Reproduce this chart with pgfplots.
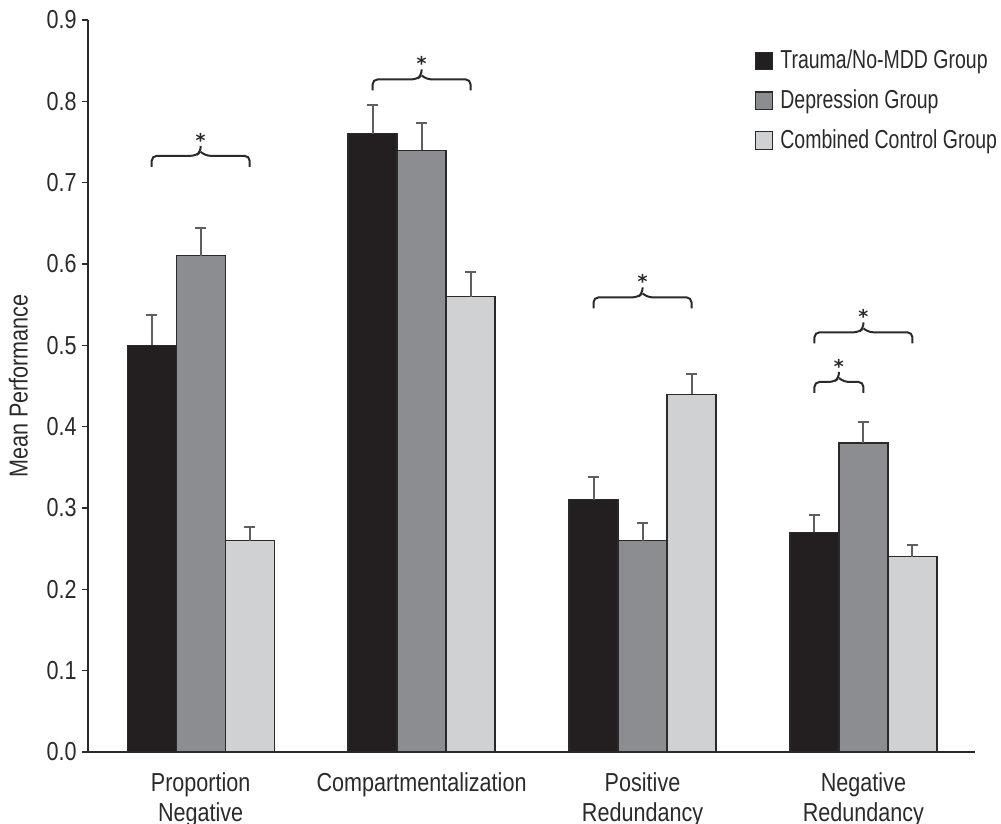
\documentclass[border=0pt]{standalone}
\usepackage{pgfplots}
\pgfplotsset{compat=1.18}
\usepackage{fontspec}
\setmainfont{Liberation Sans}[FakeStretch=0.83]
\newfontfamily\legfont{Liberation Sans}[FakeStretch=0.75]
\newfontfamily\djv{DejaVu Sans Bold}
\definecolor{cA}{HTML}{231F20}
\definecolor{cB}{HTML}{8C8D90}
\definecolor{cC}{HTML}{D0D1D3}
\definecolor{ln}{HTML}{2A2A2A}
\newcommand{\fnt}{\fontsize{13}{15}\selectfont}
\newcommand{\sfnt}{\djv\fontsize{9.5}{10}\selectfont}
\pgfplotsset{sqleg/.style={legend image code/.code={\draw[##1] (0pt,-4.4pt) rectangle (8.8pt,4.4pt);}}}
\newcommand{\brk}[4]{%
  \draw[line width=1pt, ln, rounded corners=2.5pt]
    ([yshift=-5.5pt]axis cs:#1,#4) -- (axis cs:#1,#4) -- ([xshift=-2.5pt]axis cs:#3,#4) -- ([yshift=2pt]axis cs:#3,#4) -- ([yshift=5pt]axis cs:#3,#4);
  \draw[line width=1pt, ln, rounded corners=2.5pt]
    ([yshift=-5.5pt]axis cs:#2,#4) -- (axis cs:#2,#4) -- ([xshift=2.5pt]axis cs:#3,#4) -- ([yshift=2pt]axis cs:#3,#4);
  \node[anchor=base, inner sep=0pt, text=ln, font=\sfnt] at ([yshift=4.4pt]axis cs:#3,#4) {*};
}
\begin{document}
\begin{tikzpicture}
\begin{axis}[
  name=ax,
  scale only axis, width=443.5pt, height=366pt,
  xmin=-0.51, xmax=3.505, ymin=0, ymax=0.9,
  ybar=0pt, bar width=24.5pt,
  axis x line*=bottom, axis y line*=left,
  axis line style={line width=0.8pt, ln, -},
  xtick={0,1,2,3},
  xticklabels={{Proportion\\Negative}, Compartmentalization, {Positive\\Redundancy}, {Negative\\Redundancy}},
  x tick label style={align=center, font=\fnt, text=ln, yshift=-3.8pt},
  major x tick style={draw=none},
  ytick={0,0.1,0.2,0.3,0.4,0.5,0.6,0.7,0.8,0.9},
  yticklabel style={/pgf/number format/fixed, /pgf/number format/precision=1, /pgf/number format/fixed zerofill, font=\fnt, text=ln, inner xsep=2.5pt},
  /pgf/number format/assume math mode=true,
  tick align=outside, major tick length=3pt,
  y tick style={line width=0.8pt, ln},
  ylabel={Mean Performance},
  ylabel style={font=\fnt, text=ln, at={(axis description cs:-0.0784,0.5)}, anchor=center},
  legend style={at={(0.751,0.965)}, anchor=north west, draw=none, fill=none, font=\legfont\fnt, text=ln, row sep=5pt, column sep=1.5pt, inner sep=0pt, cells={anchor=west}},
  error bars/y dir=plus, error bars/y explicit,
  error bars/error bar style={line width=1pt, draw=ln!75},
  error bars/error mark options={rotate=90, mark size=2.6pt, line width=1pt, draw=ln!75},
]
\addplot[fill=cA, draw=ln, line width=0.6pt, sqleg]
  coordinates {(0,0.50) += (0,0.037) (1,0.76) += (0,0.036) (2,0.31) += (0,0.0285) (3,0.27) += (0,0.021)};
\addplot[fill=cB, draw=ln, line width=0.6pt, sqleg]
  coordinates {(0,0.61) += (0,0.034) (1,0.74) += (0,0.033) (2,0.26) += (0,0.021) (3,0.38) += (0,0.026)};
\addplot[fill=cC, draw=ln, line width=0.6pt, sqleg]
  coordinates {(0,0.26) += (0,0.017) (1,0.56) += (0,0.030) (2,0.44) += (0,0.025) (3,0.24) += (0,0.0145)};
\legend{Trauma/No-MDD Group, Depression Group, Combined Control Group}
\brk{-0.2217}{0.2217}{0}{0.733}
\brk{0.7783}{1.2217}{1}{0.827}
\brk{1.7783}{2.2217}{2}{0.559}
\brk{2.7783}{3.2217}{3}{0.516}
\brk{2.7783}{3}{2.8891}{0.455}
\end{axis}
\pgfresetboundingbox
\path ([xshift=-44pt,yshift=-36pt]ax.south west) rectangle ([xshift=13pt,yshift=10pt]ax.north east);
\end{tikzpicture}
\end{document}
